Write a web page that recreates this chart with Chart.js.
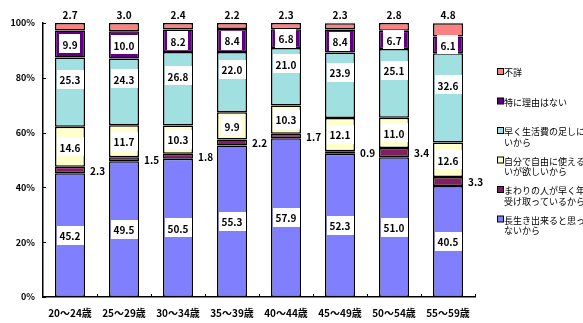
<!DOCTYPE html>
<html>
<head>
<meta charset="utf-8">
<script src="https://cdn.jsdelivr.net/npm/chart.js@4.4.0/dist/chart.umd.min.js"></script>
<style>
  html, body { margin: 0; padding: 0; background: #fff; }
  #wrap { width: 583px; height: 323px; }
</style>
</head>
<body>
<div id="wrap"><canvas id="mainChart" width="583" height="323"></canvas></div>
<script>
// ---- data ----
const AGE_GROUPS = ['20～24歳', '25～29歳', '30～34歳', '35～39歳', '40～44歳', '45～49歳', '50～54歳', '55～59歳'];
const Y_TICKS = [0, 20, 40, 60, 80, 100];

const LONG_LIFE   = [45.2, 49.5, 50.5, 55.3, 57.9, 52.3, 51.0, 40.5]; // 長生き出来ると思っていないから
const OTHERS_GET  = [2.3, 1.5, 1.8, 2.2, 1.7, 0.9, 3.4, 3.3];         // まわりの人が早く年金を受け取っているから
const POCKET      = [14.6, 11.7, 10.3, 9.9, 10.3, 12.1, 11.0, 12.6];  // 自分で自由に使えるお小遣いが欲しいから
const LIVING_COST = [25.3, 24.3, 26.8, 22.0, 21.0, 23.9, 25.1, 32.6]; // 早く生活費の足しにしたいから
const NO_REASON   = [9.9, 10.0, 8.2, 8.4, 6.8, 8.4, 6.7, 6.1];        // 特に理由はない
const UNKNOWN     = [2.7, 3.0, 2.4, 2.2, 2.3, 2.3, 2.8, 4.8];         // 不詳

const LEGEND_LINES = {
  unknown:  ['不詳'],
  noReason: ['特に理由はない'],
  living:   ['早く生活費の足しにした', 'いから'],
  pocket:   ['自分で自由に使えるお小遣', 'いが欲しいから'],
  others:   ['まわりの人が早く年金を', '受け取っているから'],
  longLife: ['長生き出来ると思ってい', 'ないから'],
};

const FONT = "'Noto Sans CJK JP', sans-serif";

function ds(label, data, color, legend, labelMode, labelShift) {
  return {
    label, data, backgroundColor: color, borderColor: '#000', borderWidth: 1.5, borderSkipped: false,
    barPercentage: 0.556, categoryPercentage: 1.0,
    legendLines: legend, labelMode, labelShift: labelShift || 0,
  };
}

const datasets = [
  ds('長生き出来ると思っていないから', LONG_LIFE, '#8080ff', LEGEND_LINES.longLife, 'inside'),
  ds('まわりの人が早く年金を受け取っているから', OTHERS_GET, '#802060', LEGEND_LINES.others, 'right'),
  ds('自分で自由に使えるお小遣いが欲しいから', POCKET, '#ffffcc', LEGEND_LINES.pocket, 'inside'),
  ds('早く生活費の足しにしたいから', LIVING_COST, '#a0e0e0', LEGEND_LINES.living, 'inside', -13),
  ds('特に理由はない', NO_REASON, '#600080', LEGEND_LINES.noReason, 'inside'),
  ds('不詳', UNKNOWN, '#ff8080', LEGEND_LINES.unknown, 'top'),
];

// value labels: white boxes inside, plain text beside / above
const valueLabels = {
  id: 'valueLabels',
  afterDatasetsDraw(chart) {
    const ctx = chart.ctx;
    ctx.save();
    ctx.font = 'bold 10px ' + FONT;
    ctx.textBaseline = 'middle';
    chart.data.datasets.forEach((d, di) => {
      const meta = chart.getDatasetMeta(di);
      meta.data.forEach((el, i) => {
        const p = el.getProps(['x', 'y', 'base', 'width'], true);
        const txt = d.data[i].toFixed(1);
        const tw = ctx.measureText(txt).width;
        if (d.labelMode === 'inside') {
          const cy = (p.y + p.base) / 2 + d.labelShift;
          const w = tw + 6, h = 19;
          ctx.fillStyle = '#fff';
          ctx.fillRect(Math.round(p.x - w / 2), Math.round(cy - h / 2), Math.round(w), h);
          ctx.fillStyle = '#000';
          ctx.textAlign = 'center';
          ctx.fillText(txt, p.x, cy + 1);
        } else if (d.labelMode === 'right') {
          ctx.fillStyle = '#000';
          ctx.textAlign = 'left';
          ctx.fillText(txt, p.x + p.width / 2 + 5, (p.y + p.base) / 2 + 1);
        } else {
          ctx.fillStyle = '#000';
          ctx.textAlign = 'center';
          ctx.fillText(txt, p.x, p.y - 8);
        }
      });
    });
    ctx.restore();
  }
};

// short inward tick marks on both axes
const innerTicks = {
  id: 'innerTicks',
  afterDraw(chart) {
    const { ctx, scales: { x, y } } = chart;
    ctx.save();
    ctx.strokeStyle = '#000';
    ctx.lineWidth = 1;
    y.ticks.forEach(t => {
      const py = Math.round(y.getPixelForValue(t.value)) + 0.5;
      ctx.beginPath(); ctx.moveTo(x.left, py); ctx.lineTo(x.left + 3, py); ctx.stroke();
    });
    const n = AGE_GROUPS.length, w = (x.right - x.left) / n;
    for (let i = 1; i <= n; i++) {
      const px = Math.round(x.left + i * w) + 0.5;
      ctx.beginPath(); ctx.moveTo(px, y.bottom); ctx.lineTo(px, y.bottom - 3); ctx.stroke();
    }
    ctx.restore();
  }
};

// legend on the right, multi-line, clipped by the canvas edge
const sideLegend = {
  id: 'sideLegend',
  afterDraw(chart) {
    const ctx = chart.ctx;
    ctx.save();
    ctx.font = '9px ' + FONT;
    ctx.textBaseline = 'middle';
    ctx.textAlign = 'left';
    const items = chart.data.datasets.slice().reverse();
    let y0 = 73;
    items.forEach(d => {
      ctx.fillStyle = d.backgroundColor;
      ctx.fillRect(497.5, y0 - 4.5, 6, 6);
      ctx.strokeStyle = '#000';
      ctx.lineWidth = 1;
      ctx.strokeRect(497.5, y0 - 4.5, 6, 6);
      ctx.fillStyle = '#000';
      d.legendLines.forEach((line, li) => ctx.fillText(line, 504, y0 + li * 10.5));
      y0 += 29.5;
    });
    ctx.restore();
  }
};

new Chart(document.getElementById('mainChart').getContext('2d'), {
  type: 'bar',
  data: { labels: AGE_GROUPS, datasets },
  options: {
    responsive: false, animation: false,
    layout: { padding: { top: 23, right: 108, left: 0, bottom: 0 } },
    plugins: { legend: { display: false }, tooltip: { enabled: false } },
    scales: {
      x: {
        stacked: true,
        grid: { display: false, drawTicks: false },
        border: { display: true, color: '#000', width: 1.5 },
        ticks: { color: '#000', font: { family: FONT, size: 10, weight: 'bold' }, padding: 10, maxRotation: 0 },
        afterFit: s => { s.height = 26; },
      },
      y: {
        stacked: true, min: 0, max: 100,
        afterBuildTicks: s => { s.ticks = Y_TICKS.map(v => ({ value: v })); },
        grid: { display: false, drawTicks: false },
        border: { display: true, color: '#000', width: 1.5 },
        ticks: { color: '#000', font: { family: FONT, size: 9, weight: 'bold' }, padding: 8, callback: v => v + '%' },
        afterFit: s => { s.width = 43; },
      },
    },
  },
  plugins: [valueLabels, innerTicks, sideLegend],
});
</script>
</body>
</html>
